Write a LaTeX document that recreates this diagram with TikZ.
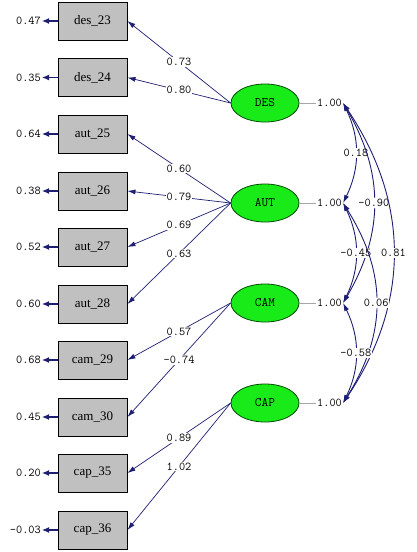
\documentclass[tikz,border=0pt]{standalone}
\usepackage{fontspec}
\setmainfont{Liberation Serif}
\usetikzlibrary{arrows.meta,shapes.geometric}
\definecolor{pathblue}{RGB}{30,30,115}
\definecolor{boxgrey}{RGB}{192,192,192}
\definecolor{latgreen}{RGB}{25,235,25}
\tikzset{
	obsvar/.style={draw=black, fill=boxgrey, line width=0.9pt, minimum width=69pt, minimum height=38pt, inner sep=0pt, font=\fontsize{13}{13}\selectfont},
	latvar/.style={ellipse, draw=black!70!green, fill=latgreen, line width=0.8pt, minimum width=68pt, minimum height=38pt, inner sep=0pt, font=\ttfamily\fontsize{13}{13}\selectfont},
	numlbl/.style={inner sep=1pt, font=\ttfamily\fontsize{12}{12}\selectfont},
	onpath/.style={numlbl, fill=white},
	loading/.style={draw=pathblue, line width=0.7pt, -{Latex[length=8pt,width=5pt]}},
	errpath/.style={draw=pathblue, line width=1.2pt, -{Latex[length=7pt,width=6pt]}},
	corr/.style={draw=pathblue, line width=0.9pt, {Latex[length=8pt,width=5pt]}-{Latex[length=8pt,width=5pt]}},
	varline/.style={draw=black!35, line width=0.7pt}
}
\begin{document}
\begin{tikzpicture}[x=1pt, y=-1pt]
		%%%%% START %%%%%
		\useasboundingbox (0, 0) rectangle (416, 552);
		
		\node[obsvar] (des23) at (92.5, 21) {des\_23};
		\node[obsvar] (des24) at (92.5, 77.5) {des\_24};
		\node[obsvar] (aut25) at (92.5, 134) {aut\_25};
		\node[obsvar] (aut26) at (92.5, 191) {aut\_26};
		\node[obsvar] (aut27) at (92.5, 247) {aut\_27};
		\node[obsvar] (aut28) at (92.5, 304) {aut\_28};
		\node[obsvar] (cam29) at (92.5, 360) {cam\_29};
		\node[obsvar] (cam30) at (92.5, 417) {cam\_30};
		\node[obsvar] (cap35) at (92.5, 473) {cap\_35};
		\node[obsvar] (cap36) at (92.5, 530) {cap\_36};
		
		\node[numlbl, anchor=east] (e23) at (42, 21) {0.47};
		\node[numlbl, anchor=east] (e24) at (42, 77.5) {0.35};
		\node[numlbl, anchor=east] (e25) at (42, 134) {0.64};
		\node[numlbl, anchor=east] (e26) at (42, 191) {0.38};
		\node[numlbl, anchor=east] (e27) at (42, 247) {0.52};
		\node[numlbl, anchor=east] (e28) at (42, 304) {0.60};
		\node[numlbl, anchor=east] (e29) at (42, 360) {0.68};
		\node[numlbl, anchor=east] (e30) at (42, 417) {0.45};
		\node[numlbl, anchor=east] (e35) at (42, 473) {0.20};
		\node[numlbl, anchor=east] (e36) at (42, 530) {-0.03};
		
		\draw[errpath] (des23.west) -- (e23.east);
		\draw[errpath] (des24.west) -- (e24.east);
		\draw[errpath] (aut25.west) -- (e25.east);
		\draw[errpath] (aut26.west) -- (e26.east);
		\draw[errpath] (aut27.west) -- (e27.east);
		\draw[errpath] (aut28.west) -- (e28.east);
		\draw[errpath] (cam29.west) -- (e29.east);
		\draw[errpath] (cam30.west) -- (e30.east);
		\draw[errpath] (cap35.west) -- (e35.east);
		\draw[errpath] (cap36.west) -- (e36.east);
		
		\node[latvar] (DES) at (265, 103) {DES};
		\node[latvar] (AUT) at (265, 203) {AUT};
		\node[latvar] (CAM) at (265, 303) {CAM};
		\node[latvar] (CAP) at (265, 403) {CAP};
		
		\node[numlbl, anchor=west] (vDES) at (316, 103) {1.00};
		\node[numlbl, anchor=west] (vAUT) at (316, 203) {1.00};
		\node[numlbl, anchor=west] (vCAM) at (316, 303) {1.00};
		\node[numlbl, anchor=west] (vCAP) at (316, 403) {1.00};
		
		\draw[varline] (DES.east) -- (vDES.west);
		\draw[varline] (AUT.east) -- (vAUT.west);
		\draw[varline] (CAM.east) -- (vCAM.west);
		\draw[varline] (CAP.east) -- (vCAP.west);
		
		\draw[loading] (DES.west) -- node[onpath] {0.73} (des23.east);
		\draw[loading] (DES.west) -- node[onpath] {0.80} (des24.east);
		\draw[loading] (AUT.west) -- node[onpath] {0.60} (aut25.east);
		\draw[loading] (AUT.west) -- node[onpath] {0.79} (aut26.east);
		\draw[loading] (AUT.west) -- node[onpath] {0.69} (aut27.east);
		\draw[loading] (AUT.west) -- node[onpath] {0.63} (aut28.east);
		\draw[loading] (CAM.west) -- node[onpath] {0.57} (cam29.east);
		\draw[loading] (CAM.west) -- node[onpath] {-0.74} (cam30.east);
		\draw[loading] (CAP.west) -- node[onpath] {0.89} (cap35.east);
		\draw[loading] (CAP.west) -- node[onpath] {1.02} (cap36.east);
		
		\draw[corr] (vDES.east) .. controls +(17, 35) and +(17, -35) .. node[onpath] {0.18} (vAUT.east);
		\draw[corr] (vDES.east) .. controls +(41, 70) and +(41, -70) .. node[onpath] {-0.90} (vCAM.east);
		\draw[corr] (vDES.east) .. controls +(67, 100) and +(67, -100) .. node[onpath] {0.81} (vCAP.east);
		\draw[corr] (vAUT.east) .. controls +(17, 35) and +(17, -35) .. node[onpath] {-0.45} (vCAM.east);
		\draw[corr] (vAUT.east) .. controls +(44, 70) and +(44, -70) .. node[onpath] {0.06} (vCAP.east);
		\draw[corr] (vCAM.east) .. controls +(17, 35) and +(17, -35) .. node[onpath] {-0.58} (vCAP.east);
		
		%%%%% END %%%%%
	\end{tikzpicture}
\end{document}
